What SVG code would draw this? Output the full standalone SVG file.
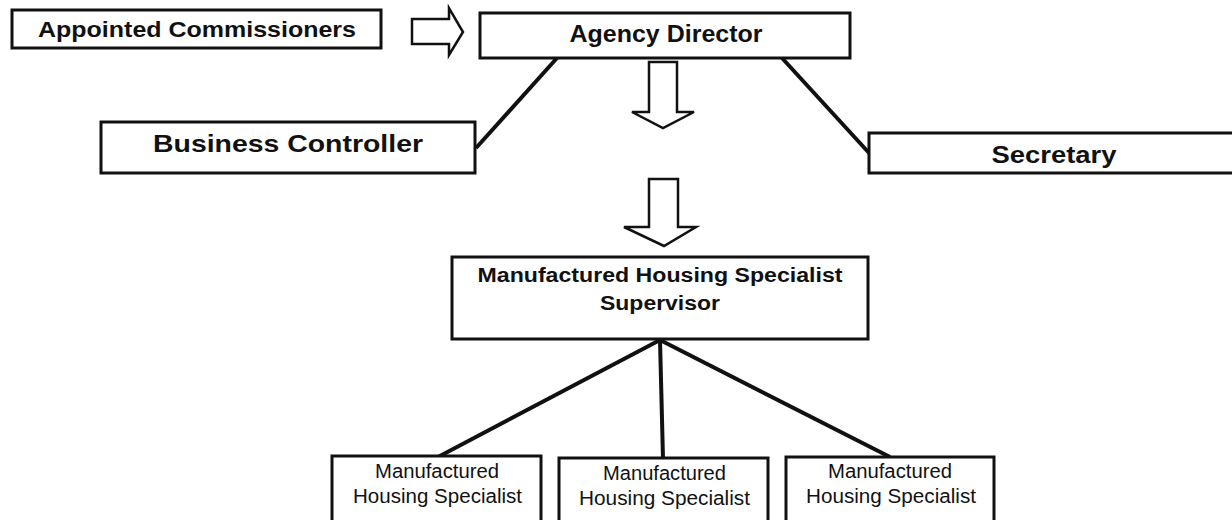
<svg xmlns="http://www.w3.org/2000/svg" width="1232" height="520" viewBox="0 0 1232 520">
<style>
.box{fill:#fff;stroke:#111;stroke-width:3}
.arrow{fill:#fff;stroke:#111;stroke-width:2.5;stroke-linejoin:miter}
.conn{stroke:#111;stroke-width:4;fill:none}
.tb{font-family:"Liberation Sans",Arial,sans-serif;font-weight:bold;fill:#111;text-anchor:middle}
.tr{font-family:"Liberation Sans",Arial,sans-serif;fill:#111;text-anchor:middle;font-size:19.5px}
</style>
<rect width="1232" height="520" fill="#fff"/>
<g id="connectors">
<line class="conn" x1="557" y1="58" x2="476" y2="148"/>
<line class="conn" x1="782" y1="58" x2="870" y2="154"/>
<line class="conn" x1="660" y1="340" x2="438" y2="457"/>
<line class="conn" x1="660" y1="340" x2="663" y2="459"/>
<line class="conn" x1="660" y1="340" x2="890" y2="457"/>
<path class="arrow" d="M412,19 H449 V8 L463,32 L449,55 V44 H412 Z"/>
<path class="arrow" d="M649,62 H677 V112 H694 L663,128 L632,112 H649 Z"/>
<path class="arrow" d="M649,179 H678 V227 H696 L664,246 L624,227 H649 Z"/>
</g>
<g id="appointed">
<rect class="box" x="12" y="10" width="369" height="38"/>
<text class="tb" x="197" y="37" font-size="22" textLength="318" lengthAdjust="spacingAndGlyphs">Appointed Commissioners</text>
</g>
<g id="director">
<rect class="box" x="480" y="13" width="370" height="45"/>
<text class="tb" x="666" y="42" font-size="23" textLength="193" lengthAdjust="spacingAndGlyphs">Agency Director</text>
</g>
<g id="controller">
<rect class="box" x="101" y="122" width="374" height="51"/>
<text class="tb" x="288" y="152" font-size="24" textLength="270" lengthAdjust="spacingAndGlyphs">Business Controller</text>
</g>
<g id="secretary">
<rect class="box" x="869" y="133" width="370" height="40"/>
<text class="tb" x="1054" y="163" font-size="24" textLength="125" lengthAdjust="spacingAndGlyphs">Secretary</text>
</g>
<g id="supervisor">
<rect class="box" x="452" y="257" width="416" height="82"/>
<text class="tb" x="660" y="282" font-size="20" textLength="365" lengthAdjust="spacingAndGlyphs">Manufactured Housing Specialist</text>
<text class="tb" x="660" y="310" font-size="20" textLength="120" lengthAdjust="spacingAndGlyphs">Supervisor</text>
</g>
<g id="specialist1">
<rect class="box" x="332" y="456" width="209" height="70"/>
<text class="tr" x="437" y="478" textLength="124" lengthAdjust="spacingAndGlyphs">Manufactured</text>
<text class="tr" x="437.5" y="503" textLength="169" lengthAdjust="spacingAndGlyphs">Housing Specialist</text>
</g>
<g id="specialist2">
<rect class="box" x="559" y="458" width="209" height="70"/>
<text class="tr" x="664.5" y="480" textLength="123" lengthAdjust="spacingAndGlyphs">Manufactured</text>
<text class="tr" x="664.5" y="505" textLength="171" lengthAdjust="spacingAndGlyphs">Housing Specialist</text>
</g>
<g id="specialist3">
<rect class="box" x="786" y="457" width="208" height="70"/>
<text class="tr" x="890" y="478" textLength="124" lengthAdjust="spacingAndGlyphs">Manufactured</text>
<text class="tr" x="891" y="503" textLength="170" lengthAdjust="spacingAndGlyphs">Housing Specialist</text>
</g>
</svg>
